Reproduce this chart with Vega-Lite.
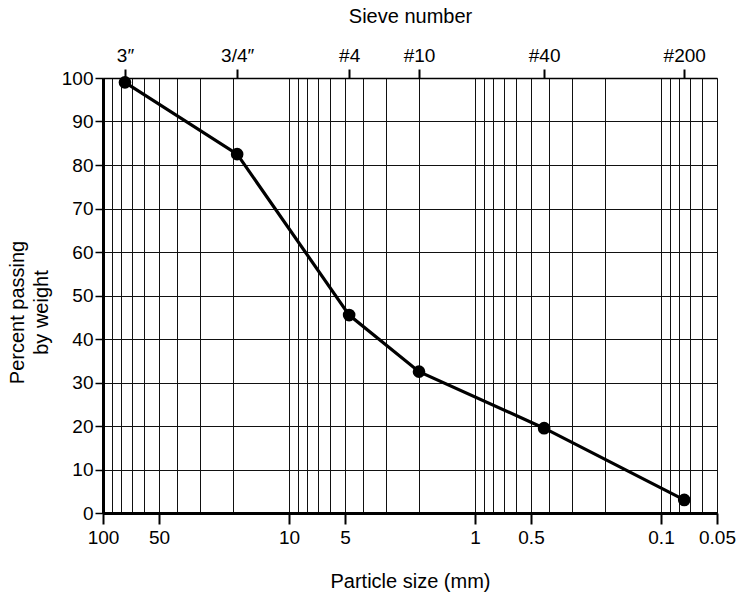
{
  "$schema": "https://vega.github.io/schema/vega-lite/v6.json",
  "width": 614,
  "height": 435,
  "autosize": {"type": "none"},
  "padding": {"left": 103, "top": 78, "right": 22, "bottom": 80},
  "background": "white",
  "config": {
    "font": "Liberation Sans",
    "view": {"stroke": null},
    "axis": {
      "labelColor": "black",
      "titleColor": "black",
      "labelFontSize": 19,
      "titleFontSize": 20,
      "titleFontWeight": "normal",
      "tickColor": "black",
      "domainColor": "black",
      "gridColor": "#111",
      "gridOpacity": 1,
      "gridWidth": 1
    }
  },
  "data": {
    "values": [
      {"sieve": "3″", "size": 76.2, "passing": 99},
      {"sieve": "3/4″", "size": 19.0, "passing": 82.5},
      {"sieve": "#4", "size": 4.75, "passing": 45.5},
      {"sieve": "#10", "size": 2.0, "passing": 32.5},
      {"sieve": "#40", "size": 0.425, "passing": 19.5},
      {"sieve": "#200", "size": 0.075, "passing": 3}
    ]
  },
  "resolve": {"axis": {"x": "independent"}},
  "layer": [
    {
      "mark": {"type": "line", "color": "black", "strokeWidth": 3.2},
      "encoding": {
        "x": {
          "field": "size",
          "type": "quantitative",
          "scale": {"type": "log", "domain": [0.05, 100], "reverse": true, "nice": false},
          "axis": {
            "orient": "bottom",
            "title": "Particle size (mm)",
            "titlePadding": 24,
            "values": [100, 90, 80, 70, 60, 50, 40, 30, 20, 10, 9, 8, 7, 6, 5, 4, 3, 2, 1, 0.9, 0.8, 0.7, 0.6, 0.5, 0.4, 0.3, 0.2, 0.1, 0.09, 0.08, 0.07, 0.06, 0.05],
            "grid": true,
            "domainWidth": 3,
            "tickSize": 11,
            "tickWidth": 2,
            "tickOpacity": {"condition": {"test": "indexof([100, 50, 10, 5, 1, 0.5, 0.1, 0.05], datum.value) >= 0", "value": 1}, "value": 0},
            "labelPadding": 4,
            "labelExpr": "indexof([100, 50, 10, 5, 1, 0.5, 0.1, 0.05], datum.value) >= 0 ? '' + datum.value : ''",
            "labelOverlap": false,
            "labelFlush": false
          }
        },
        "y": {
          "field": "passing",
          "type": "quantitative",
          "scale": {"domain": [0, 100], "nice": false},
          "axis": {
            "title": ["Percent passing", "by weight"],
            "titleFontSize": 20,
            "titleLineHeight": 24,
            "titleX": -96,
            "titleY": 234,
            "titleAngle": -90,
            "titleBaseline": "top",
            "titleAlign": "center",
            "values": [0, 10, 20, 30, 40, 50, 60, 70, 80, 90, 100],
            "grid": true,
            "domainWidth": 3,
            "tickSize": 8,
            "tickWidth": 1.5,
            "labelPadding": 2
          }
        }
      }
    },
    {
      "mark": {"type": "point", "filled": true, "color": "black", "opacity": 1, "size": 160},
      "encoding": {
        "x": {
          "field": "size",
          "type": "quantitative",
          "axis": {
            "orient": "top",
            "title": "Sieve number",
            "titlePadding": 20,
            "values": [76.2, 19.0, 4.75, 2.0, 0.425, 0.075],
            "labelExpr": "datum.value == 76.2 ? '3″' : datum.value == 19 ? '3/4″' : datum.value == 4.75 ? '#4' : datum.value == 2 ? '#10' : datum.value == 0.425 ? '#40' : '#200'",
            "grid": false,
            "domain": true,
            "domainWidth": 1.5,
            "tickSize": 9,
            "tickWidth": 2,
            "labelPadding": 4,
            "labelOverlap": false,
            "labelFlush": false
          }
        },
        "y": {"field": "passing", "type": "quantitative"}
      }
    }
  ]
}
